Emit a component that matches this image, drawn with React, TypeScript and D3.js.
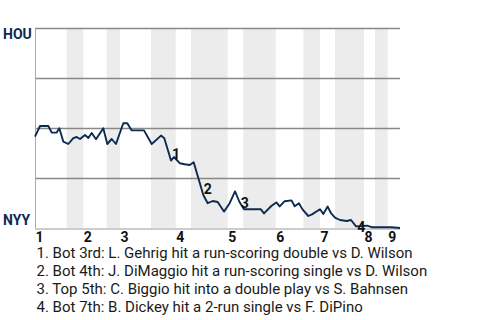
import React from "react";
import * as d3 from "d3";

// Half-inning start positions (in plate-appearance units); odd indices are bottom halves
const halfInningStarts = [0, 6.95, 10.59, 15.72, 18.63, 25.42, 30.84, 34.19, 42.24, 45.65, 52.76, 58.81, 62.47, 65.75, 72.11, 74.52, 77.3];
const gameEnd = 80;
const inningLabels = ["1", "2", "3", "4", "5", "6", "7", "8", "9"];

// Play index and HOU win probability
const playIndex = [0, 1.1, 2.92, 3.66, 4.76, 5.33, 6.2, 7.3, 8.4, 9.14, 9.86, 10.96, 11.68, 12.43, 13.37, 14.97, 15.85, 16.81, 17.75, 19.35, 20.23, 21.19, 23.89, 25.58, 27.62, 28.34, 29.81, 30.47, 31.72, 32.81, 33.91, 34.78, 36.89, 37.85, 38.95, 40.04, 41.42, 42.67, 43.84, 44.82, 45.81, 49.47, 50.19, 51.79, 52.89, 53.63, 54.73, 56.22, 56.92, 57.86, 58.63, 59.9, 60.71, 62.47, 63.19, 64.15, 64.88, 65.75, 66.85, 68.32, 69.26, 70.36, 71.96, 72.77, 73.8, 78.18, 80];
const houWinProb = [0.457, 0.51, 0.51, 0.477, 0.477, 0.499, 0.432, 0.42, 0.449, 0.455, 0.445, 0.465, 0.45, 0.475, 0.444, 0.499, 0.42, 0.445, 0.42, 0.524, 0.524, 0.488, 0.488, 0.42, 0.462, 0.449, 0.337, 0.355, 0.324, 0.319, 0.315, 0.329, 0.165, 0.124, 0.135, 0.13, 0.082, 0.124, 0.183, 0.13, 0.094, 0.094, 0.073, 0.11, 0.128, 0.108, 0.134, 0.138, 0.109, 0.124, 0.093, 0.06, 0.068, 0.094, 0.07, 0.107, 0.074, 0.052, 0.04, 0.035, 0.04, 0.008, 0.01, 0.012, 0.004, 0.004, 0.0];

const gridValues = [1, 0.75, 0.5, 0.25];

// Key-play markers: number, play position, label anchor probability
const keyPlayNums = ["1", "2", "3", "4"];
const keyPlayAt = [29.9, 36.9, 45.0, 70.5];
const keyPlayLabelProb = [0.345, 0.17, 0.1, -0.02];
const keyPlayText = [
  "1. Bot 3rd: L. Gehrig hit a run-scoring double vs D. Wilson",
  "2. Bot 4th: J. DiMaggio hit a run-scoring single vs D. Wilson",
  "3. Top 5th: C. Biggio hit into a double play vs S. Bahnsen",
  "4. Bot 7th: B. Dickey hit a 2-run single vs F. DiPino",
];

const teamTop = "HOU";
const teamBottom = "NYY";

export default function App() {
  const W = 480, H = 320;
  const left = 35, right = 400, top = 28, bottom = 228;
  const x = d3.scaleLinear().domain([0, gameEnd]).range([left, right]);
  const y = d3.scaleLinear().domain([0, 1]).range([bottom, top]);
  const line = d3.line<number>()
    .x((_, i) => x(playIndex[i]))
    .y((d) => y(d));
  const font = "Roboto, 'Noto Sans', sans-serif";
  const navy = "#0c2a52";

  const bands = halfInningStarts.map((s, i) => ({
    s,
    e: i + 1 < halfInningStarts.length ? halfInningStarts[i + 1] : gameEnd,
    bottomHalf: i % 2 === 1,
  })).filter((b) => b.bottomHalf);

  return (
    <svg width={W} height={H} style={{ position: "absolute", left: 0, top: 0 }} fontFamily={font}>
      <rect width={W} height={H} fill="#fff" />
      {bands.map((b, i) => (
        <rect key={i} x={x(b.s)} y={top} width={x(b.e) - x(b.s)} height={bottom + 2 - top} fill="#ececec" />
      ))}
      {gridValues.map((g) => (
        <line key={g} x1={left} x2={right} y1={Math.round(y(g)) + 0.5} y2={Math.round(y(g)) + 0.5} stroke="#888" strokeWidth={1.3} />
      ))}
      <line x1={left + 0.5} x2={left + 0.5} y1={top} y2={bottom + 2} stroke="#aaa" strokeWidth={1} />
      <line x1={left} x2={right} y1={bottom + 1} y2={bottom + 1} stroke="#ccc" strokeWidth={2} />
      <path d={line(houWinProb) || ""} fill="none" stroke={navy} strokeWidth={1.9} strokeLinejoin="round" />
      <text x={3} y={38.5} fontSize={14} fontWeight="bold" fill={navy}>{teamTop}</text>
      <text x={3} y={225} fontSize={14} fontWeight="bold" fill={navy}>{teamBottom}</text>
      {inningLabels.map((lab, i) => (
        <text key={lab} x={x(halfInningStarts[i * 2]) + 0.5} y={241.5} fontSize={14} fontWeight="bold" fill="#111">{lab}</text>
      ))}
      {keyPlayNums.map((n, i) => (
        <text key={n} x={x(keyPlayAt[i]) + 0.5} y={y(keyPlayLabelProb[i])} fontSize={14} fontWeight="bold" fill="#111">{n}</text>
      ))}
      {keyPlayText.map((t, i) => (
        <text key={i} x={36.5} y={257.5 + i * 18.1} fontSize={15} fill="#1a1a1a">{t}</text>
      ))}
    </svg>
  );
}
